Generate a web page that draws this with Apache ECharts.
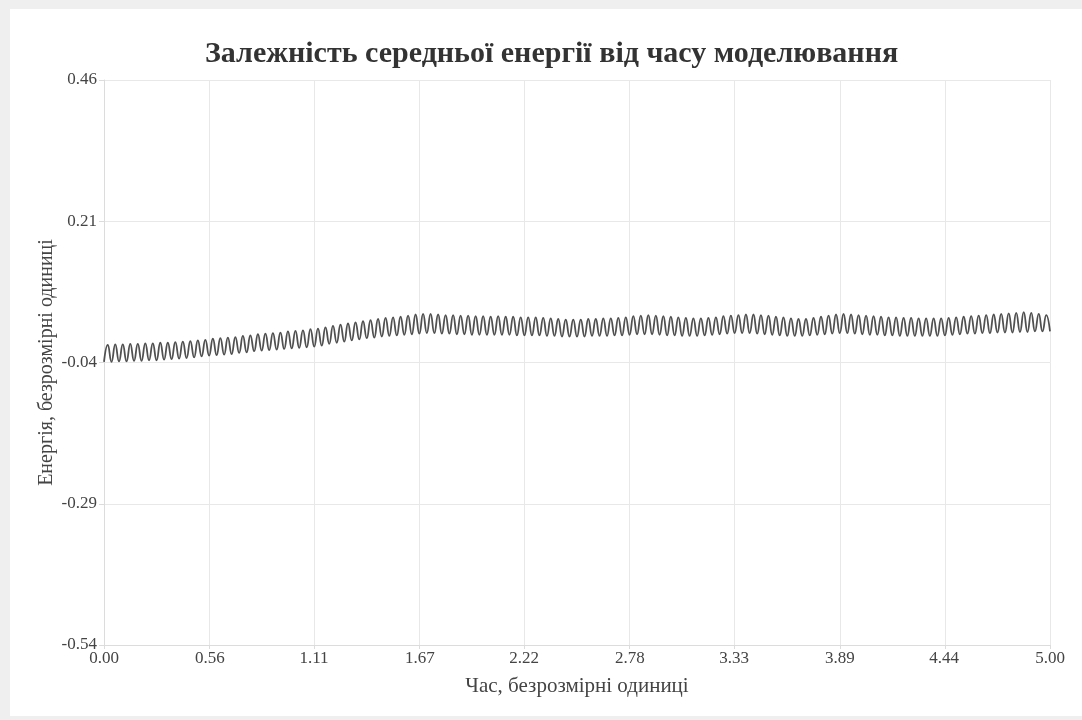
<!DOCTYPE html>
<html>
<head>
<meta charset="utf-8">
<script src="https://cdn.jsdelivr.net/npm/echarts@6/dist/echarts.min.js"></script>
<style>
  html, body { margin: 0; padding: 0; background: #efefef; width: 1082px; height: 720px; overflow: hidden; }
  #panel { position: absolute; left: 10px; top: 9px; right: 0; bottom: 4px; background: #fff; }
  #chart { position: absolute; left: 0; top: 0; width: 1082px; height: 720px; }
</style>
</head>
<body>
<div id="panel"></div>
<div id="chart"></div>
<script>
// Time range and number of oscillation cycles
const timeMax = 5;
const cycles = 126;

// Upper extrema (peaks) of the energy oscillation
const peaks = [
  -0.009, -0.008, -0.008, -0.007, -0.007, -0.006, -0.006, -0.005, -0.005, -0.004,
  -0.003, -0.002, -0.001, 0.000, 0.002, 0.003, 0.004, 0.005, 0.007, 0.008,
  0.010, 0.011, 0.012, 0.013, 0.015, 0.016, 0.017, 0.019, 0.020, 0.022,
  0.025, 0.027, 0.029, 0.031, 0.033, 0.035, 0.037, 0.039, 0.040, 0.041,
  0.043, 0.045, 0.046, 0.046, 0.045, 0.044, 0.044, 0.043, 0.043, 0.042,
  0.042, 0.041, 0.042, 0.041, 0.041, 0.040, 0.040, 0.040, 0.039, 0.038,
  0.037, 0.036, 0.036, 0.036, 0.037, 0.037, 0.038, 0.038, 0.039, 0.040,
  0.042, 0.043, 0.044, 0.043, 0.042, 0.041, 0.040, 0.039, 0.038, 0.038,
  0.039, 0.040, 0.042, 0.043, 0.044, 0.045, 0.045, 0.044, 0.043, 0.041,
  0.040, 0.038, 0.037, 0.037, 0.039, 0.041, 0.043, 0.045, 0.046, 0.045,
  0.044, 0.043, 0.042, 0.041, 0.040, 0.040, 0.039, 0.039, 0.038, 0.038,
  0.038, 0.038, 0.039, 0.040, 0.041, 0.042, 0.043, 0.044, 0.045, 0.046,
  0.047, 0.048, 0.049, 0.048, 0.046, 0.044
];

// Lower extrema (troughs)
const troughs = [
  -0.039, -0.039, -0.038, -0.038, -0.037, -0.037, -0.036, -0.036, -0.035, -0.034,
  -0.033, -0.032, -0.031, -0.029, -0.028, -0.027, -0.026, -0.025, -0.023, -0.022,
  -0.020, -0.019, -0.018, -0.017, -0.016, -0.015, -0.014, -0.013, -0.012, -0.010,
  -0.007, -0.005, -0.003, -0.001, 0.001, 0.003, 0.004, 0.006, 0.007, 0.008,
  0.009, 0.010, 0.011, 0.012, 0.012, 0.011, 0.011, 0.010, 0.010, 0.009,
  0.009, 0.009, 0.009, 0.009, 0.009, 0.008, 0.008, 0.008, 0.008, 0.007,
  0.007, 0.006, 0.006, 0.006, 0.006, 0.007, 0.007, 0.007, 0.008, 0.008,
  0.009, 0.010, 0.010, 0.010, 0.009, 0.008, 0.008, 0.007, 0.007, 0.007,
  0.008, 0.009, 0.010, 0.011, 0.012, 0.012, 0.012, 0.011, 0.010, 0.009,
  0.008, 0.007, 0.007, 0.007, 0.008, 0.009, 0.010, 0.011, 0.012, 0.012,
  0.011, 0.010, 0.009, 0.009, 0.008, 0.008, 0.007, 0.007, 0.007, 0.007,
  0.007, 0.007, 0.008, 0.009, 0.010, 0.011, 0.011, 0.012, 0.012, 0.013,
  0.013, 0.013, 0.014, 0.014, 0.015, 0.015, 0.015
];

// Tick labels
const xTicks = [0.00, 0.56, 1.11, 1.67, 2.22, 2.78, 3.33, 3.89, 4.44, 5.00];
const yTicks = [-0.54, -0.29, -0.04, 0.21, 0.46];

const titleText = 'Залежність середньої енергії від часу моделювання';
const xName = 'Час, безрозмірні одиниці';
const yName = 'Енергія, безрозмірні одиниці';

// Build the [time, energy] series: trough, peak, trough, ...
const step = timeMax / (2 * cycles);
const seriesData = [];
for (let k = 0; k <= 2 * cycles; k++) {
  const v = (k % 2 === 0) ? troughs[k / 2] : peaks[(k - 1) / 2];
  if (v === undefined) continue;
  seriesData.push([k * step, v]);
}

const serif = '"Liberation Serif", "DejaVu Serif", serif';
const chart = echarts.init(document.getElementById('chart'), null, { renderer: 'canvas' });
chart.setOption({
  backgroundColor: 'transparent',
  animation: false,
  title: {
    text: titleText,
    left: 205,
    top: 39,
    padding: 0,
    textStyle: { fontFamily: serif, fontSize: 30, fontWeight: 'bold', color: '#333' }
  },
  grid: { left: 104, right: 32, top: 80, bottom: 75, containLabel: false },
  xAxis: {
    type: 'value',
    min: 0,
    max: timeMax,
    interval: timeMax / 9,
    name: xName,
    nameLocation: 'middle',
    nameGap: 31,
    nameMoveOverlap: false,
    nameTextStyle: { fontFamily: serif, fontSize: 21, color: '#444' },
    axisLine: { show: true, onZero: false, lineStyle: { color: '#dcdcdc', width: 1 } },
    axisTick: { show: true, length: 4, lineStyle: { color: '#dcdcdc' } },
    axisLabel: {
      fontFamily: serif, fontSize: 17, color: '#444', margin: 5,
      customValues: xTicks,
      formatter: v => Number(v).toFixed(2)
    },
    splitLine: { show: true, lineStyle: { color: '#e8e8e8', width: 1 } }
  },
  yAxis: {
    type: 'value',
    min: yTicks[0],
    max: yTicks[yTicks.length - 1],
    name: yName,
    nameLocation: 'middle',
    nameGap: 47,
    nameMoveOverlap: false,
    nameTextStyle: { fontFamily: serif, fontSize: 20, color: '#444' },
    axisLine: { show: true, onZero: false, lineStyle: { color: '#dcdcdc', width: 1 } },
    axisTick: { show: true, length: 5, customValues: yTicks, lineStyle: { color: '#dcdcdc' } },
    axisLabel: {
      fontFamily: serif, fontSize: 17, color: '#444', margin: 7,
      customValues: yTicks,
      formatter: v => Number(v).toFixed(2)
    },
    splitLine: { show: true, lineStyle: { color: '#e8e8e8', width: 1 } }
  },
  series: [{
    type: 'line',
    data: seriesData,
    showSymbol: false,
    smooth: 0.5,
    lineStyle: { color: '#505050', width: 1.8 },
    z: 3
  }]
});
</script>
</body>
</html>
